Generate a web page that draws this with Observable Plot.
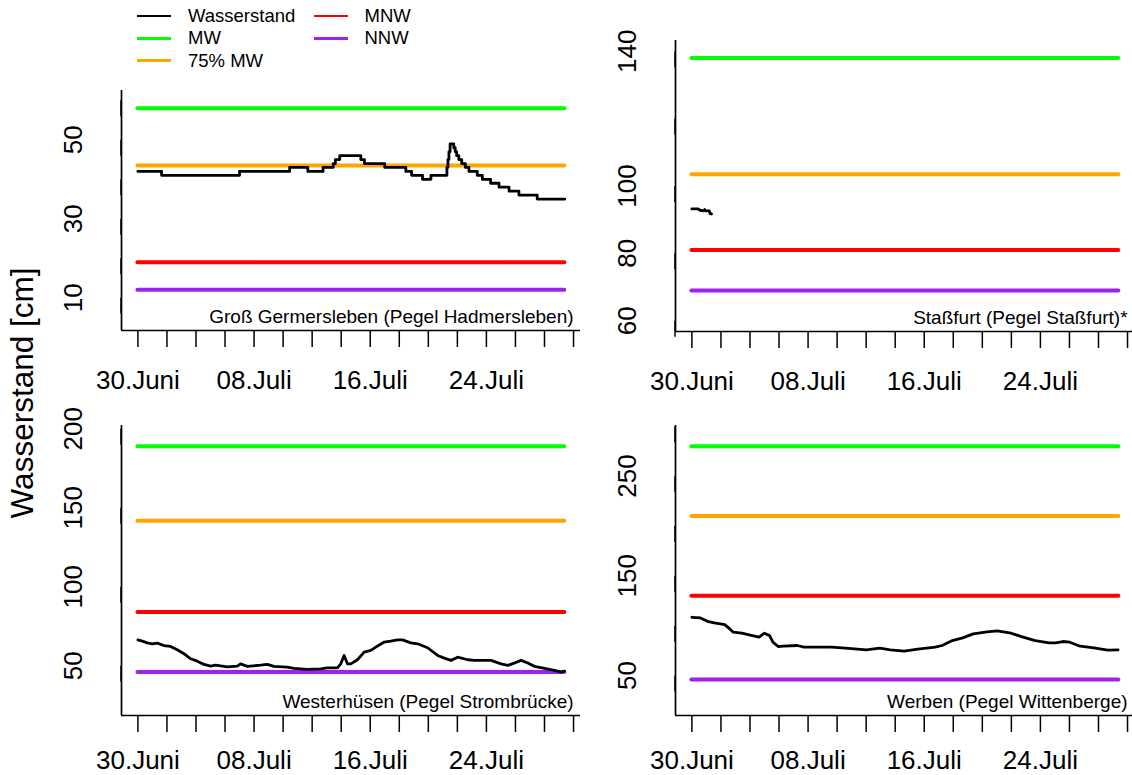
<!DOCTYPE html>
<html><head><meta charset="utf-8">
<script src="https://cdn.jsdelivr.net/npm/d3@7"></script>
<script src="https://cdn.jsdelivr.net/npm/@observablehq/plot@0.6"></script>
<style>
html,body{margin:0;padding:0;background:#fff;overflow:hidden;}
#chart{position:relative;width:1132px;height:775px;overflow:hidden;font-family:"Liberation Sans",Arial,sans-serif;color:#000;}
.panel{position:absolute;}
.panel svg{display:block;max-width:none;}
.lg-line{position:absolute;height:2.7px;width:34px;}
.lg-text{position:absolute;font-size:18.5px;line-height:1;white-space:nowrap;transform:translateY(-50%);}
#ytitle{position:absolute;left:23px;top:393px;font-size:31.5px;line-height:1;white-space:nowrap;transform:translate(-50%,-50%) rotate(-90deg);}
</style></head><body><div id="chart"></div>
<script>
// ---------- data ----------
// x axis: days since 30 June
const xTickDays = [0,2,4,6,8,10,12,14,16,18,20,22,24,26,28,30];
const xLabelDays = [0,8,16,24];
const xLabels = ["30.Juni","08.Juli","16.Juli","24.Juli"];
const periodStart = 0, periodEnd = 29.4;

const stations = ["Groß Germersleben (Pegel Hadmersleben)","Staßfurt (Pegel Staßfurt)*","Westerhüsen (Pegel Strombrücke)","Werben (Pegel Wittenberge)"];
const levelNames = ["MW","75% MW","MNW","NNW"];
const levelColors = ["#00FF00","#FFA500","#FF0000","#A020F0"];
const mw    = [58, 138, 189, 280];
const mw75  = [43.5, 103.5, 141.75, 210];
const mnw   = [19, 81, 84, 130];
const nnw   = [12, 69, 46, 46];

const yTicks = [[10,20,30,40,50,60],[60,80,100,120,140],[50,100,150,200],[50,100,150,200,250,300]];
const yTickLabels = [[10,30,50],[60,80,100,140],[50,100,150,200],[50,150,250]];

// Wasserstand, Groß Germersleben (step series)
const hadDays  = [0,1.63,7.0,10.45,11.7,12.75,13.45,13.6,13.9,15.35,15.6,17.0,18.45,18.85,19.6,20.18,21.28,21.35,21.42,21.5,21.75,21.85,21.95,22.1,22.3,22.55,22.8,23.37,23.72,24.29,24.87,25.56,26.24,27.5,29.4];
const hadLevel = [42,41,42,43,42,43,44,45,46,45,44,43,42,41,40,41,43,45,47,49,48,47,46,45,44,43,42,41,40,39,38,37,36,35,35];
// Staßfurt
const stfDays  = [0,0.45,0.55,0.8,0.88,0.95,1.2,1.25,1.35];
const stfLevel = [93.2,93.2,92.8,92.6,93.0,92.6,92.6,91.8,91.7];
// Westerhüsen
const strDays  = [0,0.3,0.65,0.99,1.33,1.79,2.25,2.71,3.17,3.63,4.09,4.55,5.01,5.35,6.16,6.85,7.07,7.53,8.45,8.91,9.37,10.29,10.75,11.67,12.59,13.05,13.74,13.97,14.2,14.43,14.66,15.12,15.58,16.04,16.38,16.96,17.42,17.88,18.22,18.8,19.26,19.95,20.64,21.1,21.56,22.02,22.71,23.17,24.32,25.01,25.47,25.93,26.39,26.85,27.31,28.0,28.69,29.15,29.38];
const strLevel = [66.4,65.6,64.5,63.9,64.3,62.8,62.2,60.1,57.6,54.4,52.9,50.8,49.8,50.4,49.3,49.8,51.2,49.6,50.4,50.9,49.6,49.1,48.3,47.7,48.0,48.7,48.7,51.2,56.5,51.2,51.2,53.8,58.6,59.7,61.8,65.0,65.6,66.4,66.4,64.5,63.9,61.4,56.5,54.8,53.4,55.4,53.8,53.4,53.4,51.2,50.2,51.7,53.4,51.7,49.6,48.3,47.0,46.0,46.6];
// Werben
const witDays  = [0,0.59,1.07,1.54,2.26,2.61,2.85,3.44,4.16,4.63,4.99,5.35,5.58,5.94,6.3,7.25,7.72,9.62,10.57,12.0,12.95,13.66,14.62,15.56,16.75,17.23,17.94,18.65,19.37,20.32,21.03,21.98,22.69,23.64,24.6,25.07,25.55,26.02,26.74,27.69,28.63,29.35];
const witLevel = [108.4,107.7,104.3,102.7,101,96.7,93.4,92.4,90,88.4,92.4,90,83.4,79.1,79.4,80.1,78.4,78.4,77.4,75.8,77.4,75.8,74.4,76.4,78.4,80.1,85,87.7,91.7,93.7,94.7,92.4,89,85,82.8,82.8,84.1,83.4,79.4,77.7,75.4,75.8];

const legendLabels = ["Wasserstand","MW","75% MW","MNW","NNW"];
const legendColors = ["#000000","#00FF00","#FFA500","#FF0000","#A020F0"];

// ---------- layout ----------
const FONT = '"Liberation Sans", Arial, sans-serif';
const mL = 110, mR = 12, mT = 8;
const frameW = 459;
const xDomain = [-1.13, 30.48];
const layouts = [
  {left:121, top:90,  h:240, yDomain:[1.7, 62.5],    pad:23, mB:64},
  {left:675, top:40,  h:291, yDomain:[56.8, 143.2],  pad:23, mB:64},
  {left:121, top:425, h:290, yDomain:[18.5, 202.1],  pad:18, mB:59},
  {left:675, top:425, h:290, yDomain:[9.9, 300.7],   pad:18, mB:59}
];
const seriesDays = [hadDays, stfDays, strDays, witDays];
const seriesLevels = [hadLevel, stfLevel, strLevel, witLevel];
const curves = ["step-after","linear","linear","linear"];

const chart = document.getElementById("chart");

layouts.forEach((L, i) => {
  const data = seriesDays[i].map((d, k) => ({day: d, value: seriesLevels[i][k]}));
  const levels = [mw[i], mw75[i], mnw[i], nnw[i]];
  const levelMarks = levels.map((v, k) =>
    Plot.ruleY([v], {x1: periodStart, x2: periodEnd, stroke: levelColors[k], strokeWidth: 4, strokeLinecap: "round"}));
  const plot = Plot.plot({
    width: mL + frameW + mR,
    height: mT + L.h + L.mB,
    marginLeft: mL, marginRight: mR, marginTop: mT, marginBottom: L.mB,
    style: {fontFamily: FONT, fontSize: "26px", color: "#000", background: "transparent", overflow: "visible", maxWidth: "none"},
    x: {domain: xDomain},
    y: {domain: L.yDomain},
    marks: [
      ...levelMarks,
      Plot.line(data, {x: "day", y: "value", curve: curves[i], stroke: "#000", strokeWidth: 2.8, strokeLinejoin: "round", strokeLinecap: "round"}),
      Plot.text([stations[i]], {x: xTickDays[xTickDays.length - 1], frameAnchor: "bottom", text: d => d, textAnchor: "end", lineAnchor: "middle", dy: -14, fontSize: 19, fill: "#000"}),
      Plot.axisX({ticks: xTickDays, tickSize: 17, tickPadding: L.pad, strokeWidth: 1.5, label: null,
        tickFormat: d => { const j = xLabelDays.indexOf(d); return j >= 0 ? xLabels[j] : ""; }}),
      Plot.axisY({ticks: yTicks[i], tickSize: 16, tickPadding: 31.5, strokeWidth: 1.5, label: null, rotate: -90, textAnchor: "middle", lineAnchor: "middle",
        tickFormat: d => yTickLabels[i].includes(d) ? String(d) : ""}),
      Plot.ruleX([xDomain[0]], {stroke: "#000", strokeWidth: 1.7}),
      Plot.ruleY([L.yDomain[0]], {stroke: "#000", strokeWidth: 1.7})
    ]
  });
  const div = document.createElement("div");
  div.className = "panel";
  div.style.left = (L.left - mL) + "px";
  div.style.top = (L.top - mT) + "px";
  div.style.width = (mL + frameW + mR) + "px";
  div.appendChild(plot);
  chart.appendChild(div);
});

// legend
const legendPos = [[137,16],[137,38.3],[137,60.7],[313.5,16],[313.5,38.3]];
legendLabels.forEach((lab, k) => {
  const [x, y] = legendPos[k];
  const ln = document.createElement("div");
  ln.className = "lg-line";
  ln.style.left = x + "px"; ln.style.top = (y - 1.35) + "px"; ln.style.background = legendColors[k];
  chart.appendChild(ln);
  const tx = document.createElement("div");
  tx.className = "lg-text";
  tx.style.left = (x + 51) + "px"; tx.style.top = y + "px";
  tx.textContent = lab;
  chart.appendChild(tx);
});

const yt = document.createElement("div");
yt.id = "ytitle";
yt.textContent = "Wasserstand [cm]";
chart.appendChild(yt);
</script>
</body></html>
